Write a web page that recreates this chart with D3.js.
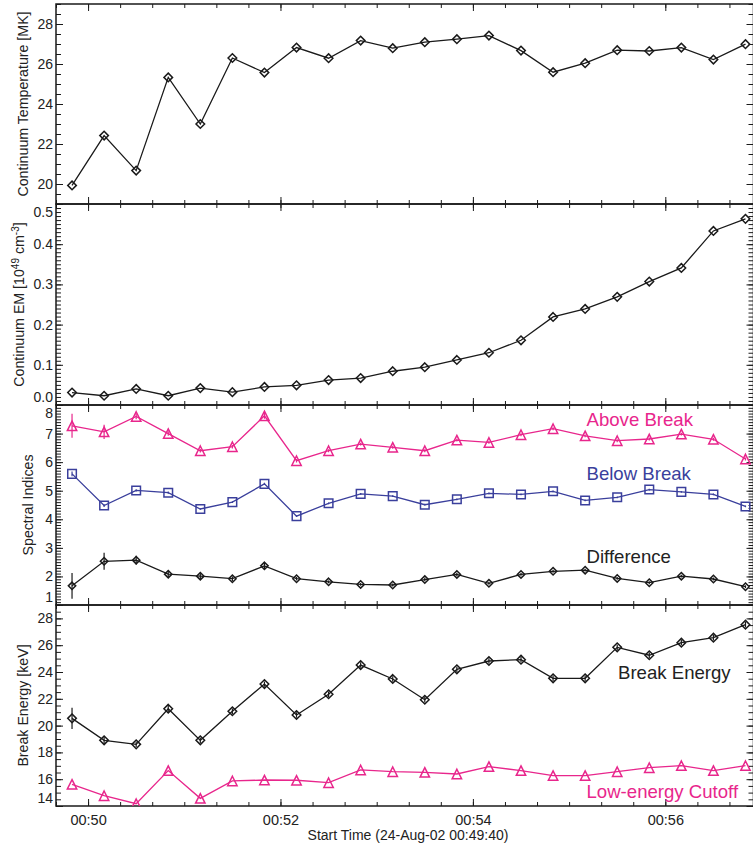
<!DOCTYPE html>
<html><head><meta charset="utf-8">
<script src="https://cdn.jsdelivr.net/npm/d3@7"></script>
<style>
html,body{margin:0;padding:0;background:#fff;}
svg{display:block;font-family:"Liberation Sans",Arial,Helvetica,sans-serif;}
</style></head>
<body><svg id="c" width="753" height="846"></svg>
<script>
// ---------------- data ----------------
const times = ["00:49:50","00:50:10","00:50:30","00:50:50","00:51:10","00:51:30","00:51:50","00:52:10","00:52:30","00:52:50","00:53:10","00:53:30","00:53:50","00:54:10","00:54:30","00:54:50","00:55:10","00:55:30","00:55:50","00:56:10","00:56:30","00:56:50"];
const temperature = [19.93,22.42,20.67,25.33,23.0,26.3,25.57,26.82,26.29,27.17,26.79,27.09,27.24,27.42,26.67,25.59,26.04,26.69,26.65,26.82,26.22,26.99];
const emission = [0.031,0.023,0.040,0.023,0.042,0.032,0.045,0.049,0.062,0.067,0.084,0.094,0.112,0.130,0.161,0.219,0.239,0.269,0.307,0.341,0.433,0.463];
const aboveBreak = [7.27,7.06,7.60,7.00,6.40,6.54,7.62,6.05,6.40,6.63,6.52,6.40,6.77,6.69,6.96,7.17,6.92,6.75,6.81,6.98,6.80,6.11];
const aboveBreakErr = [0.42,0.25,0.10,0.08,0.06,0.06,0.10,0.06,0.05,0.05,0.05,0.05,0.05,0.05,0.05,0.05,0.05,0.05,0.05,0.05,0.05,0.05];
const belowBreak = [5.59,4.48,5.01,4.93,4.36,4.60,5.24,4.11,4.56,4.89,4.81,4.51,4.70,4.91,4.87,4.98,4.66,4.77,5.04,4.96,4.87,4.45];
const belowBreakErr = [0.08,0.05,0.04,0.04,0.03,0.03,0.04,0.03,0.03,0.03,0.03,0.03,0.03,0.03,0.03,0.03,0.03,0.03,0.03,0.03,0.03,0.03];
const difference = [1.67,2.53,2.57,2.08,2.01,1.92,2.37,1.92,1.81,1.72,1.70,1.89,2.07,1.76,2.07,2.18,2.22,1.93,1.78,2.01,1.91,1.64];
const differenceErr = [0.45,0.30,0.15,0.12,0.10,0.08,0.13,0.06,0.05,0.05,0.05,0.06,0.06,0.05,0.05,0.05,0.05,0.05,0.05,0.05,0.05,0.05];
const breakEnergy = [20.54,18.90,18.60,21.26,18.90,21.07,23.10,20.79,22.34,24.52,23.48,21.93,24.20,24.82,24.92,23.53,23.53,25.84,25.25,26.19,26.56,27.53];
const breakEnergyErr = [0.8,0.3,0.2,0.3,0.2,0.2,0.2,0.2,0.2,0.2,0.2,0.2,0.2,0.2,0.2,0.2,0.2,0.2,0.2,0.2,0.2,0.2];
const cutoff = [15.62,14.77,14.17,16.64,14.57,15.87,15.94,15.92,15.74,16.69,16.56,16.51,16.39,16.94,16.64,16.27,16.27,16.56,16.86,17.01,16.64,17.01];
const tempTicks = [20,22,24,26,28];
const emTicks = [0.0,0.1,0.2,0.3,0.4,0.5];
const siTicks = [1,2,3,4,5,6,7,8];
const beTicks = [14,16,18,20,22,24,26,28];
const xStart = "00:49:40", xEnd = "00:56:55";
const xTitle = "Start Time (24-Aug-02 00:49:40)";

// ---------------- layout ----------------
const PINK = "#e8268c", BLUE = "#3a3f9c", INK = "#1a1a1a";
const L = 56, R = 753.5;
const parse = d3.utcParse("%Y-%m-%d %H:%M:%S");
const tp = s => parse("2002-08-24 " + s);
const x = d3.scaleUtc().domain([tp(xStart), tp(xEnd)]).range([L, R]);
const svg = d3.select("#c");

const panels = [
  {top:4,   bottom:204, dom:[19,29],  ticks:tempTicks, minor:0.5, fmt:d3.format("d"), tx:28},
  {top:204, bottom:405, dom:[0,0.5],  ticks:emTicks,   minor:0.01, fmt:d3.format(".1f"), tx:24},
  {top:405, bottom:605, dom:[1,8],    ticks:siTicks,   minor:0.1, fmt:d3.format("d"), tx:33},
  {top:605, bottom:806, dom:[14,29],  ticks:beTicks,   minor:0.5, fmt:d3.format("d"), tx:28}
];
const defs = svg.append("defs");
panels.forEach((p,i)=>{
  p.y = d3.scaleLinear().domain(p.dom).range([p.bottom, p.top]);
  defs.append("clipPath").attr("id","clip"+i).append("rect")
    .attr("x",L).attr("y",p.top).attr("width",R-L).attr("height",p.bottom-p.top);
});

function minorVals(dom, step){
  const out=[]; const n=Math.round((dom[1]-dom[0])/step);
  for(let k=0;k<=n;k++){ out.push(+(dom[0]+k*step).toFixed(6)); }
  return out;
}

// axes
panels.forEach((p,i)=>{
  const g = svg.append("g");
  const minorT = minorVals(p.dom, p.minor);
  g.append("g").attr("transform",`translate(${L},0)`)
    .call(d3.axisLeft(p.y).tickValues(minorT).tickSize(-5).tickSizeOuter(0).tickFormat(""));
  const la = g.append("g").attr("transform",`translate(${L},0)`)
    .call(d3.axisLeft(p.y).tickValues(p.ticks).tickSize(-7).tickSizeOuter(0).tickPadding(3).tickFormat(p.fmt));
  la.selectAll("text").attr("font-size","14px").attr("fill","#222")
    .attr("font-family","'Liberation Sans',Arial,sans-serif")
    .attr("y", d => {
      const yy = p.y(d);
      if (Math.abs(yy - p.top) < 1) return 8.5;
      if (Math.abs(yy - p.bottom) < 1) return -7.5;
      return 0;
    });
  g.append("g").attr("transform",`translate(${R},0)`)
    .call(d3.axisRight(p.y).tickValues(minorT).tickSize(-5).tickSizeOuter(0).tickFormat(""));
  g.append("g").attr("transform",`translate(${R},0)`)
    .call(d3.axisRight(p.y).tickValues(p.ticks).tickSize(-7).tickSizeOuter(0).tickFormat(""));
  g.append("g").attr("transform",`translate(0,${p.top})`)
    .call(d3.axisTop(x).ticks(d3.utcSecond.every(20)).tickSize(-4).tickSizeOuter(0).tickFormat(""));
  g.append("g").attr("transform",`translate(0,${p.top})`)
    .call(d3.axisTop(x).ticks(d3.utcMinute.every(2)).tickSize(-7).tickSizeOuter(0).tickFormat(""));
  g.append("g").attr("transform",`translate(0,${p.bottom})`)
    .call(d3.axisBottom(x).ticks(d3.utcSecond.every(20)).tickSize(-4).tickSizeOuter(0).tickFormat(""));
  const ba = g.append("g").attr("transform",`translate(0,${p.bottom})`)
    .call(d3.axisBottom(x).ticks(d3.utcMinute.every(2)).tickSize(-7).tickSizeOuter(0).tickPadding(8.5)
      .tickFormat(i===3 ? d3.utcFormat("%H:%M") : ""));
  ba.selectAll("text").attr("font-size","14.5px").attr("fill","#222")
    .attr("font-family","'Liberation Sans',Arial,sans-serif");
  g.selectAll(".domain").remove();
  g.selectAll(".tick line").attr("stroke",INK).attr("stroke-width",1);
  svg.append("rect").attr("x",L).attr("y",p.top).attr("width",R-L).attr("height",p.bottom-p.top)
    .attr("fill","none").attr("stroke",INK).attr("stroke-width",1.5);
});

// markers
const diamond = r => `M0,${-r}L${r},0L0,${r}L${-r},0Z`;
const square = r => `M${-r},${-r}H${r}V${r}H${-r}Z`;
const triangle = r => `M0,${-r}L${r},${r}L${-r},${r}Z`;

function series(pi, vals, errs, color, shape, size){
  const p = panels[pi];
  const g = svg.append("g").attr("clip-path",`url(#clip${pi})`);
  const pts = times.map((t,k)=>({t:tp(t), v:vals[k], e: errs ? errs[k] : 0}));
  g.append("path").datum(pts)
    .attr("d", d3.line().x(d=>x(d.t)).y(d=>p.y(d.v)))
    .attr("fill","none").attr("stroke",color).attr("stroke-width",1.3);
  if (errs) {
    g.selectAll(null).data(pts).enter().append("line")
      .attr("x1",d=>x(d.t)).attr("x2",d=>x(d.t))
      .attr("y1",d=>p.y(d.v-d.e)).attr("y2",d=>p.y(d.v+d.e))
      .attr("stroke",color).attr("stroke-width",1.2);
  }
  g.selectAll(null).data(pts).enter().append("path")
    .attr("transform",d=>`translate(${x(d.t)},${p.y(d.v)})`)
    .attr("d", shape(size))
    .attr("fill","none").attr("stroke",color).attr("stroke-width",1.5);
}

series(0, temperature, null, INK, diamond, 4.3);
series(1, emission, null, INK, diamond, 4.3);
series(2, aboveBreak, aboveBreakErr, PINK, triangle, 4.7);
series(2, belowBreak, belowBreakErr, BLUE, square, 4.3);
series(2, difference, differenceErr, INK, diamond, 3.7);
series(3, breakEnergy, breakEnergyErr, INK, diamond, 4.3);
series(3, cutoff, null, PINK, triangle, 4.7);

// annotations
function note(txt, xx, yy, color){
  svg.append("text").attr("x",xx).attr("y",yy).attr("font-size","18.6px")
    .attr("fill",color).text(txt);
}
note("Above Break", 586.5, 426, PINK);
note("Below Break", 586.5, 480, BLUE);
note("Difference", 586.5, 562.5, "#222");
note("Break Energy", 618, 678.5, "#222");
note("Low-energy Cutoff", 586.5, 797.5, PINK);

// y titles
function ytitle(pi, parts){
  const p = panels[pi];
  const cy = (p.top + p.bottom)/2;
  const t = svg.append("text")
    .attr("transform",`translate(${p.tx},${cy}) rotate(-90)`)
    .attr("text-anchor","middle").attr("font-size","14.2px").attr("fill","#222");
  parts.forEach(pt=>{
    const s = t.append("tspan").text(pt.t);
    if (pt.sup) { s.attr("font-size","10px").attr("dy","-0.55em"); }
    else if (pt.after) { s.attr("dy","0.39em"); }
  });
}
ytitle(0, [{t:"Continuum Temperature [MK]"}]);
ytitle(1, [{t:"Continuum EM [10"},{t:"49",sup:true},{t:" cm",after:true},{t:"-3",sup:true},{t:"]",after:true}]);
ytitle(2, [{t:"Spectral Indices"}]);
ytitle(3, [{t:"Break Energy [keV]"}]);

svg.append("text").attr("x",408).attr("y",839.5).attr("text-anchor","middle")
  .attr("font-size","14px").attr("fill","#222").text(xTitle);
</script>
</body></html>
